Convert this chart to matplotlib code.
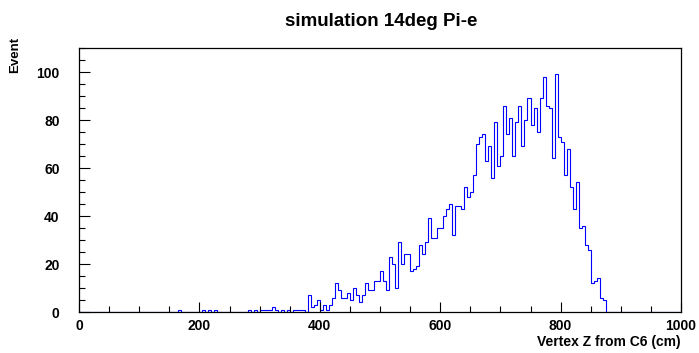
import numpy as np
import matplotlib.pyplot as plt
from matplotlib.ticker import MultipleLocator

plt.rcParams['font.family'] = ['Liberation Sans', 'DejaVu Sans']
plt.rcParams['font.weight'] = 'bold'

# 200 bins of 5 cm between 0 and 1000 cm; only filled bins listed
bin_width = 5
n_bins = 200
filled_low_edges = [
    165, 205, 215, 225, 280, 290, 300, 305, 310, 315, 320, 325, 335,
    345, 355, 360, 365, 370,
    380, 385, 390, 395, 400, 405, 410, 415, 420, 425, 430, 435, 440, 445,
    450, 455, 460, 465, 470, 475, 480, 485, 490, 495, 500, 505, 510, 515,
    520, 525, 530, 535, 540, 545, 550, 555, 560, 565, 570, 575, 580, 585,
    590, 595, 600, 605, 610, 615, 620, 625, 630, 635, 640, 645, 650, 655,
    660, 665, 670, 675, 680, 685, 690, 695, 700, 705, 710, 715, 720, 725,
    730, 735, 740, 745, 750, 755, 760, 765, 770, 775, 780, 785, 790, 795,
    800, 805, 810, 815, 820, 825, 830, 835, 840, 845, 850, 855, 860, 865,
    870,
]
filled_counts = [
    1, 1, 1, 1, 1, 1, 1, 1, 1, 1, 2, 1, 1,
    1, 1, 1, 1, 1,
    7, 2, 3, 5, 1, 3, 1, 3, 6, 12, 9, 6, 6, 8,
    5, 10, 7, 4, 7, 12, 9, 9, 13, 13, 17, 13, 9, 23,
    20, 10, 29, 20, 24, 24, 17, 18, 19, 28, 24, 29, 39, 31,
    31, 35, 35, 40, 43, 45, 32, 44, 44, 43, 52, 48, 50, 57,
    70, 73, 74, 63, 69, 56, 79, 61, 65, 86, 74, 81, 65, 79,
    86, 69, 80, 89, 78, 85, 75, 89, 98, 86, 85, 64, 99, 73,
    71, 57, 68, 52, 43, 54, 35, 36, 28, 26, 12, 13, 14, 6,
    5,
]

edges = np.arange(n_bins + 1) * bin_width
counts = np.zeros(n_bins)
counts[np.array(filled_low_edges) // bin_width] = filled_counts

fig = plt.figure(figsize=(6.99, 3.53), dpi=100)
ax = fig.add_axes([79 / 699, 41 / 353, 602 / 699, 264 / 353])

ax.stairs(counts, edges, color='#0000ff', linewidth=0.8, zorder=1)

ax.set_xlim(0, 1000)
ax.set_ylim(0, 110)
ax.xaxis.set_major_locator(MultipleLocator(200))
ax.xaxis.set_minor_locator(MultipleLocator(50))
ax.yaxis.set_major_locator(MultipleLocator(20))
ax.yaxis.set_minor_locator(MultipleLocator(5))

ax.tick_params(axis='both', which='both', direction='in', top=False, right=False,
               width=0.8, labelsize=10)
ax.tick_params(axis='x', which='major', length=7, pad=5)
ax.tick_params(axis='x', which='minor', length=4)
ax.tick_params(axis='y', which='major', length=8, pad=14)
ax.tick_params(axis='y', which='minor', length=4)
for lbl in ax.get_xticklabels() + ax.get_yticklabels():
    lbl.set_fontweight('bold')

for s in ax.spines.values():
    s.set_linewidth(0.9)
    s.set_zorder(3)

fig.text(381 / 699, 1 - 22 / 353, 'simulation 14deg Pi-e', ha='center', va='center',
         fontsize=13.5, fontweight='bold')
fig.text(681 / 699, 1 - 342 / 353, 'Vertex Z from C6 (cm)', ha='right', va='center',
         fontsize=10, fontweight='bold')
fig.text(15 / 699, 1 - 37 / 353, 'Event', rotation=90, ha='center', va='top',
         fontsize=9.5, fontweight='bold')

fig.savefig('out.png', dpi=100)
